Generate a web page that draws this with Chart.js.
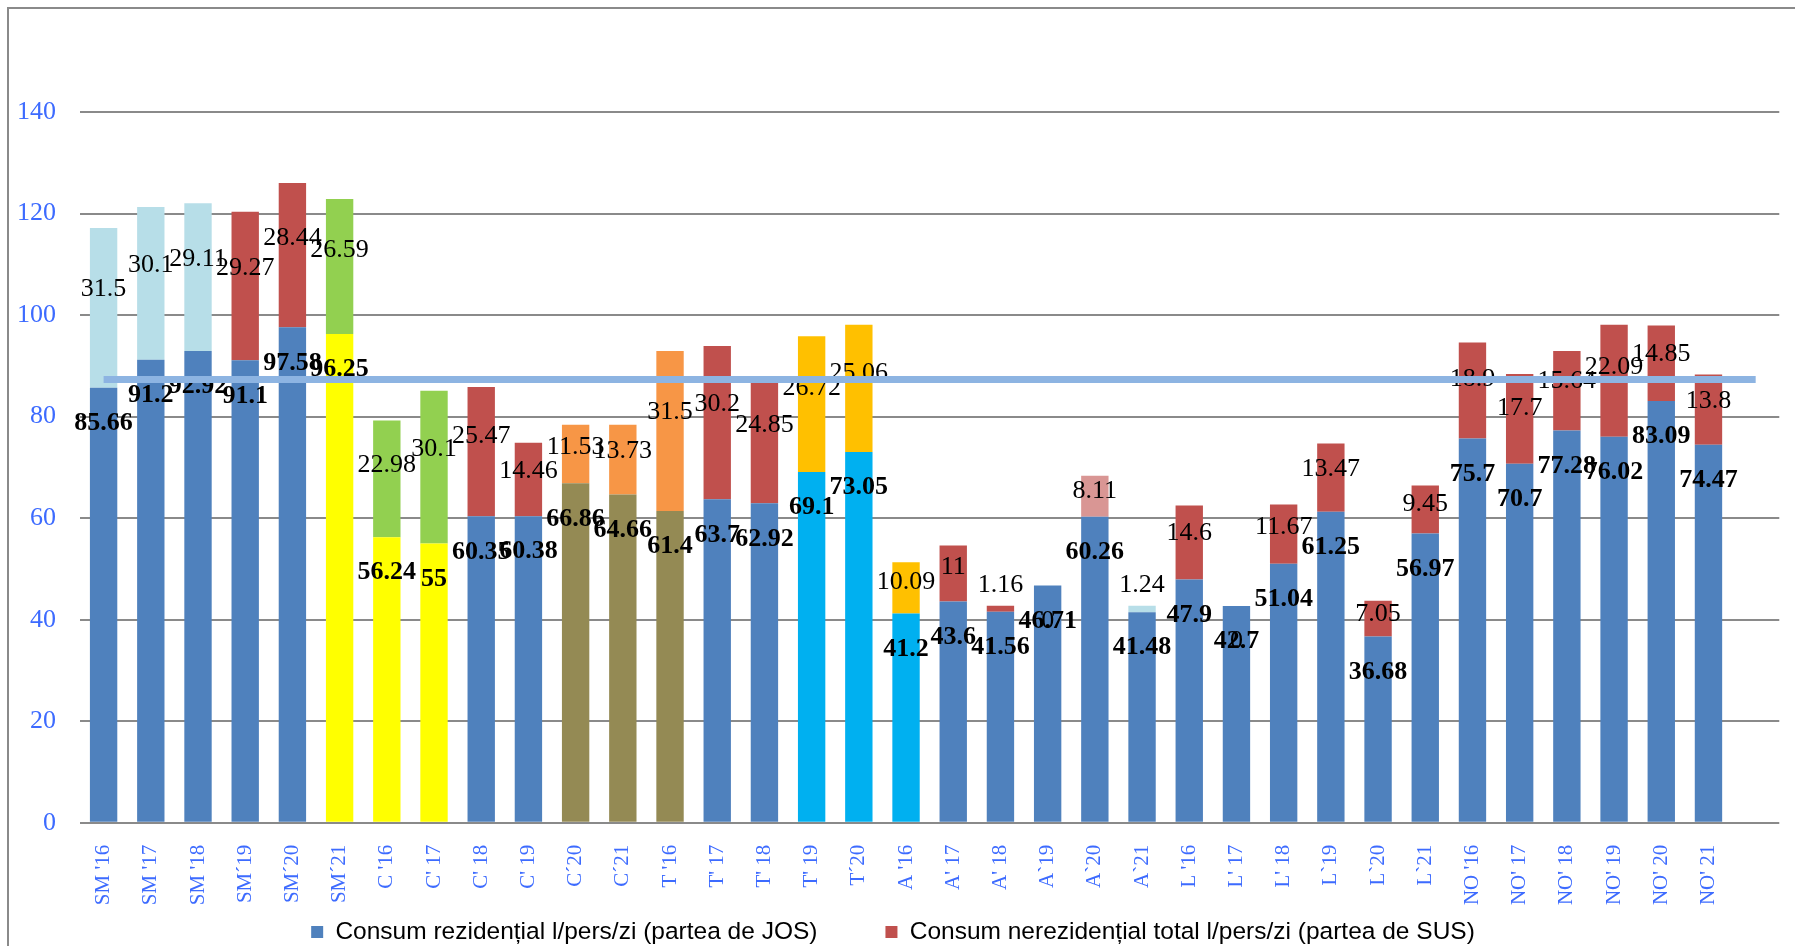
<!DOCTYPE html>
<html>
<head>
<meta charset="utf-8">
<script src="https://cdn.jsdelivr.net/npm/chart.js@4.4.1/dist/chart.umd.min.js"></script>
<style>
  html, body { margin: 0; padding: 0; background: #fff; }
  canvas { display: block; }
</style>
</head>
<body>
<canvas id="consum-chart" width="1795" height="946"></canvas>
<script>
// categories (the last, empty one only carries the average line to the right)
const categories = [
  "SM '16", "SM '17", "SM '18", "SM´19", "SM´20", "SM´21",
  "C '16", "C' 17", "C' 18", "C' 19", "C´20", "C´21",
  "T '16", "T' 17", "T' 18", "T' 19", "T´20",
  "A '16", "A' 17", "A' 18", "A`19", "A`20", "A`21",
  "L '16", "L' 17", "L' 18", "L`19", "L`20", "L`21",
  "NO '16", "NO' 17", "NO' 18", "NO' 19", "NO' 20", "NO' 21",
  ""
];

// residential (bottom part)
const rezidential = [
  85.66, 91.2, 92.92, 91.1, 97.58, 96.25,
  56.24, 55, 60.35, 60.38, 66.86, 64.66,
  61.4, 63.7, 62.92, 69.1, 73.05,
  41.2, 43.6, 41.56, 46.71, 60.26, 41.48,
  47.9, 42.7, 51.04, 61.25, 36.68, 56.97,
  75.7, 70.7, 77.28, 76.02, 83.09, 74.47
];

// non-residential (top part)
const nerezidential = [
  31.5, 30.1, 29.11, 29.27, 28.44, 26.59,
  22.98, 30.1, 25.47, 14.46, 11.53, 13.73,
  31.5, 30.2, 24.85, 26.72, 25.06,
  10.09, 11, 1.16, 0, 8.11, 1.24,
  14.6, 0, 11.67, 13.47, 7.05, 9.45,
  18.9, 17.7, 15.64, 22.09, 14.85, 13.8
];

// average line
const average = [
  87.3, 87.3, 87.3, 87.3, 87.3, 87.3, 87.3, 87.3, 87.3, 87.3, 87.3, 87.3,
  87.3, 87.3, 87.3, 87.3, 87.3, 87.3, 87.3, 87.3, 87.3, 87.3, 87.3, 87.3,
  87.3, 87.3, 87.3, 87.3, 87.3, 87.3, 87.3, 87.3, 87.3, 87.3, 87.3, 87.3
];

const seriesNames = [
  "Consum rezidențial l/pers/zi (partea de JOS)",
  "Consum nerezidențial total l/pers/zi (partea de SUS)"
];

const BLUE = "#4f81bd", RED = "#c0504d", LIGHT = "#b7dee8", GREEN = "#92d050",
  YELLOW = "#ffff00", OLIVE = "#948a54", ORANGE = "#f79646", CYAN = "#00b0f0",
  AMBER = "#ffc000", PINK = "#d99694";

const bottomColors = [
  BLUE, BLUE, BLUE, BLUE, BLUE, YELLOW,
  YELLOW, YELLOW, BLUE, BLUE, OLIVE, OLIVE,
  OLIVE, BLUE, BLUE, CYAN, CYAN,
  CYAN, BLUE, BLUE, BLUE, BLUE, BLUE,
  BLUE, BLUE, BLUE, BLUE, BLUE, BLUE,
  BLUE, BLUE, BLUE, BLUE, BLUE, BLUE
];
const topColors = [
  LIGHT, LIGHT, LIGHT, RED, RED, GREEN,
  GREEN, GREEN, RED, RED, ORANGE, ORANGE,
  ORANGE, RED, RED, AMBER, AMBER,
  AMBER, RED, RED, RED, PINK, LIGHT,
  RED, RED, RED, RED, RED, RED,
  RED, RED, RED, RED, RED, RED
];

const TICK_BLUE = "#3d6bff";
const SERIF = "'Liberation Serif', 'Times New Roman', serif";

// grey frame round the chart (left and top edges)
const frame = {
  id: "frame",
  beforeDraw(chart) {
    const c = chart.ctx;
    c.save();
    c.strokeStyle = "#8a8a8a";
    c.lineWidth = 2;
    c.beginPath();
    c.moveTo(8, chart.height);
    c.lineTo(8, 8);
    c.lineTo(chart.width, 8);
    c.stroke();
    c.restore();
  }
};

// value labels, drawn after the bars and before the average line
const valueLabels = {
  id: "valueLabels",
  afterDatasetDraw(chart, args) {
    if (args.index !== 0) return;
    const c = chart.ctx;
    const y = chart.scales.y;
    const bars = chart.getDatasetMeta(0).data;
    c.save();
    c.textAlign = "center";
    c.textBaseline = "middle";
    c.fillStyle = "#000";
    c.font = "bold 26px " + SERIF;
    rezidential.forEach((v, i) => {
      c.fillText(String(v), bars[i].x, y.getPixelForValue(v - 7));
    });
    c.font = "26px " + SERIF;
    nerezidential.forEach((t, i) => {
      const v = rezidential[i];
      let at = v + t * 0.62;
      if (t === 0) at = v - 7;
      else if (t < 5) at = v + t + 4;
      c.fillText(String(t), bars[i].x, y.getPixelForValue(at));
    });
    c.restore();
  }
};

new Chart(document.getElementById("consum-chart"), {
  data: {
    labels: categories,
    datasets: [
      {
        type: "bar",
        label: seriesNames[0],
        data: rezidential,
        backgroundColor: bottomColors,
        stack: "bars",
        order: 1,
      },
      {
        type: "bar",
        label: seriesNames[1],
        data: nerezidential,
        backgroundColor: topColors,
        stack: "bars",
        order: 2,
      },
      {
        type: "line",
        label: "media",
        data: average,
        borderColor: "#8db4e2",
        borderWidth: 7,
        pointRadius: 0,
        fill: false,
        stack: "avg",
        order: 0,
      },
    ],
  },
  options: {
    responsive: false,
    animation: false,
    devicePixelRatio: 1,
    layout: { padding: { top: 112, right: 9, bottom: -8.25, left: 0 } },
    datasets: {
      bar: { categoryPercentage: 1, barPercentage: 0.58 },
    },
    plugins: {
      tooltip: { enabled: false },
      legend: {
        position: "bottom",
        labels: {
          color: TICK_BLUE,
          font: { family: "'Liberation Sans', Arial, sans-serif", size: 24.5 },
          boxWidth: 12,
          boxHeight: 12,
          padding: 68,
          generateLabels: () => [
            { text: seriesNames[0], fillStyle: BLUE, strokeStyle: BLUE, lineWidth: 0, datasetIndex: 0 },
            { text: seriesNames[1], fillStyle: RED, strokeStyle: RED, lineWidth: 0, datasetIndex: 1 },
          ],
        },
      },
    },
    scales: {
      x: {
        stacked: true,
        grid: { display: false },
        border: { display: false },
        ticks: {
          color: TICK_BLUE,
          font: { family: SERIF, size: 21 },
          minRotation: 90,
          maxRotation: 90,
          autoSkip: false,
          padding: 14,
        },
        afterFit(scale) {
          // the legend box sits over the lower part of this axis, so keep labels unclipped
          scale.height = 29;
          scale._computeLabelArea = () => undefined;
        },
      },
      y: {
        stacked: true,
        min: 0,
        max: 140,
        border: { display: false },
        grid: { color: "#8a8a8a", lineWidth: 2, drawTicks: false },
        ticks: {
          stepSize: 20,
          color: TICK_BLUE,
          font: { family: SERIF, size: 26 },
          padding: 24,
        },
        afterFit(scale) { scale.width = 80; },
      },
    },
  },
  plugins: [frame, valueLabels],
});
</script>
</body>
</html>
